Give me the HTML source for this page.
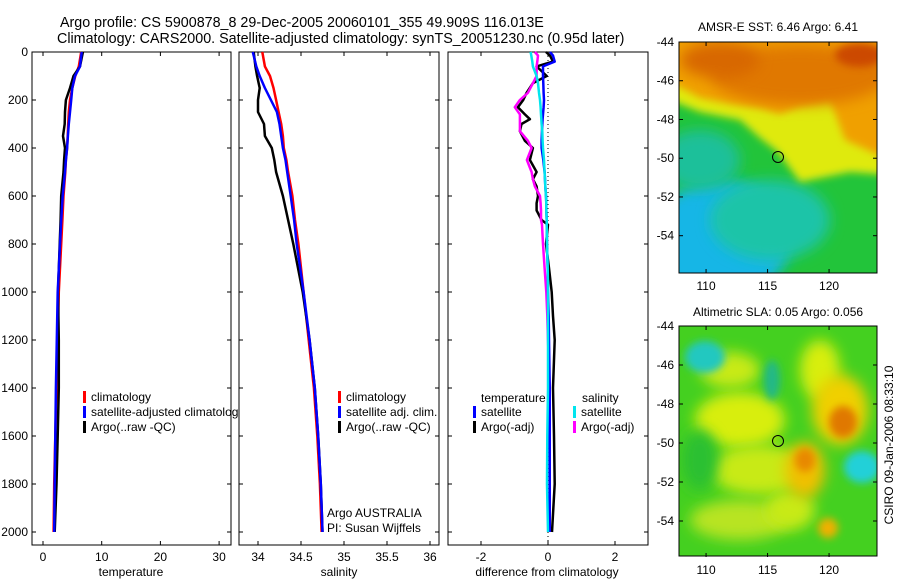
<!DOCTYPE html>
<html><head><meta charset="utf-8"><style>
html,body{margin:0;padding:0;background:#fff;}
svg{display:block;font-family:"Liberation Sans",sans-serif;}
</style></head><body>
<svg id="c" width="900" height="580" viewBox="0 0 900 580" xmlns="http://www.w3.org/2000/svg">
<defs>
<filter id="bl" x="-50%" y="-50%" width="200%" height="200%"><feGaussianBlur stdDeviation="7"/></filter>
<filter id="bl2" x="-50%" y="-50%" width="200%" height="200%"><feGaussianBlur stdDeviation="4"/></filter>
<clipPath id="m1"><rect x="679" y="42" width="198" height="231"/></clipPath>
<clipPath id="m2"><rect x="679" y="326" width="198" height="230"/></clipPath>
</defs>
<text x="60" y="27" font-size="14.3">Argo profile: CS 5900878_8 29-Dec-2005 20060101_355 49.909S 116.013E</text>
<text x="57" y="43" font-size="14.3">Climatology: CARS2000. Satellite-adjusted climatology: synTS_20051230.nc (0.95d later)</text>
<g id="plots"></g>

<!-- SST map -->
<g clip-path="url(#m1)">
<rect x="679" y="42" width="198" height="231" fill="#22c43a"/>
<ellipse cx="720" cy="240" rx="70" ry="60" fill="#19b6e6" filter="url(#bl)"/>
<ellipse cx="770" cy="220" rx="60" ry="40" fill="#1cc4a8" filter="url(#bl)"/>
<ellipse cx="700" cy="160" rx="40" ry="30" fill="#1fc09a" filter="url(#bl)"/>
<polygon points="670,100 700,112 740,120 760,138 778,152 800,182 820,178 850,172 890,175 890,30 670,30" fill="#dfea10" filter="url(#bl2)"/>
<polygon points="670,82 700,98 730,104 760,108 780,114 800,106 830,100 845,140 890,160 890,30 670,30" fill="#f0a000" filter="url(#bl2)"/>
<ellipse cx="800" cy="75" rx="90" ry="30" fill="#e07800" filter="url(#bl)"/>
<ellipse cx="720" cy="60" rx="40" ry="18" fill="#d86800" filter="url(#bl)"/>
<ellipse cx="860" cy="55" rx="25" ry="12" fill="#cc4a00" filter="url(#bl2)"/>
</g>
<rect x="679" y="42" width="198" height="231" fill="none" stroke="#000"/>
<circle cx="778" cy="157" r="5.5" fill="none" stroke="#000"/>
<text x="778" y="31" font-size="12" text-anchor="middle">AMSR-E SST: 6.46 Argo: 6.41</text>

<!-- SLA map -->
<g clip-path="url(#m2)">
<rect x="679" y="326" width="198" height="230" fill="#44d020"/>
<ellipse cx="740" cy="420" rx="45" ry="28" fill="#d8ee10" filter="url(#bl)"/>
<ellipse cx="730" cy="370" rx="30" ry="18" fill="#c8ea18" filter="url(#bl)"/>
<ellipse cx="820" cy="370" rx="20" ry="30" fill="#d8ee10" filter="url(#bl)"/>
<ellipse cx="760" cy="470" rx="50" ry="25" fill="#c8ea18" filter="url(#bl)"/>
<ellipse cx="740" cy="520" rx="50" ry="20" fill="#b8e420" filter="url(#bl)"/>
<ellipse cx="790" cy="510" rx="25" ry="20" fill="#c8ea18" filter="url(#bl)"/>
<ellipse cx="700" cy="460" rx="18" ry="30" fill="#2cc030" filter="url(#bl)"/>
<ellipse cx="840" cy="410" rx="28" ry="35" fill="#f0d000" filter="url(#bl)"/>
<ellipse cx="843" cy="422" rx="14" ry="16" fill="#e07800" filter="url(#bl2)"/>
<ellipse cx="805" cy="470" rx="20" ry="28" fill="#f0c000" filter="url(#bl)"/>
<ellipse cx="805" cy="460" rx="10" ry="12" fill="#e88800" filter="url(#bl2)"/>
<ellipse cx="828" cy="528" rx="10" ry="10" fill="#f0b000" filter="url(#bl2)"/>
<ellipse cx="705" cy="357" rx="20" ry="16" fill="#22c8c0" filter="url(#bl2)"/>
<ellipse cx="862" cy="467" rx="18" ry="16" fill="#22d0d8" filter="url(#bl2)"/>
<ellipse cx="772" cy="380" rx="8" ry="20" fill="#22b888" filter="url(#bl2)"/>
</g>
<rect x="679" y="326" width="198" height="230" fill="none" stroke="#000"/>
<circle cx="778" cy="441" r="5.5" fill="none" stroke="#000"/>
<text x="778" y="316" font-size="12" text-anchor="middle">Altimetric SLA: 0.05 Argo: 0.056</text>
<text transform="translate(893,445) rotate(-90)" font-size="12" text-anchor="middle">CSIRO 09-Jan-2006 08:33:10</text>
<g id="maps"></g>
</svg>
<script>
// ---- data ----
const depths = [0,60,100,150,200,250,300,350,400,450,500,600,700,800,1000,1200,1400,1600,1800,2000];
const tempClim = [6.5,6.1,5.5,5.0,4.6,4.4,4.3,4.2,4.1,3.9,3.8,3.5,3.3,3.1,2.7,2.5,2.3,2.1,1.9,1.8];
const tempSat  = [6.6,6.3,5.45,5.0,4.8,4.6,4.4,4.25,4.1,3.9,3.75,3.35,3.1,2.9,2.5,2.35,2.2,2.1,2.0,1.9];
const tempArgo = [6.8,6.3,5.2,4.6,3.9,3.75,3.7,3.4,3.75,3.6,3.5,3.1,3.0,2.85,2.55,2.7,2.7,2.5,2.3,2.0];
const salClim = [34.05,34.08,34.14,34.18,34.21,34.24,34.27,34.29,34.30,34.33,34.35,34.40,34.43,34.47,34.53,34.59,34.65,34.69,34.72,34.74];
const salSat  = [33.94,33.98,34.02,34.08,34.15,34.22,34.25,34.27,34.29,34.32,34.34,34.38,34.42,34.45,34.53,34.60,34.66,34.70,34.73,34.75];
const salArgo = [33.95,33.97,33.99,34.02,34.00,34.00,34.07,34.08,34.16,34.19,34.21,34.29,34.35,34.41,34.52,34.60,34.66,34.70,34.73,34.75];
const diffDepths = [0,15,40,60,100,130,170,200,230,260,280,300,330,370,400,450,500,530,560,600,630,660,700,720,800,900,1000,1100,1200,1400,1600,1800,2000];
const dTempArgo = [-0.06,0.06,0.15,-0.34,-0.04,-0.45,-0.64,-0.74,-0.9,-0.69,-0.54,-0.79,-0.84,-0.69,-0.45,-0.54,-0.34,-0.45,-0.34,-0.3,-0.34,-0.34,-0.19,0.0,-0.06,0.03,0.11,0.15,0.2,0.15,0.18,0.2,0.12];
const dSalArgo  = [-0.39,-0.3,-0.32,-0.34,-0.34,-0.45,-0.6,-0.84,-0.99,-0.84,-0.84,-0.84,-0.84,-0.6,-0.49,-0.63,-0.49,-0.45,-0.39,-0.24,-0.22,-0.21,-0.21,-0.18,-0.15,-0.1,-0.05,-0.02,0.0,0.05,0.05,0.05,0.05];
const dTempSat  = [0.06,0.15,0.2,-0.15,-0.15,-0.14,-0.13,-0.12,-0.13,-0.15,-0.16,-0.17,-0.18,-0.19,-0.19,-0.14,-0.1,-0.09,-0.08,-0.06,-0.05,-0.05,-0.04,-0.04,-0.03,-0.01,0.0,0.02,0.03,0.05,0.05,0.05,0.05];
const dSalSat   = [-0.52,-0.5,-0.47,-0.45,-0.34,-0.3,-0.27,-0.24,-0.22,-0.21,-0.2,-0.19,-0.17,-0.16,-0.15,-0.12,-0.1,-0.09,-0.08,-0.06,-0.05,-0.05,-0.04,-0.04,-0.03,-0.01,0.0,0.0,0.0,0.0,-0.02,-0.03,0.0];
const depthTicks = [0,200,400,600,800,1000,1200,1400,1600,1800,2000];
const tempTicks = [0,10,20,30];
const salTicks = [34,34.5,35,35.5,36];
const salTickLabels = ["34","34.5","35","35.5","36"];
const diffTicks = [-2,0,2];
const latTicks = [-44,-46,-48,-50,-52,-54];
const lonTicks = [110,115,120];

// ---- axis functions ----
const yD = d => 52 + d*0.24;
const xT = t => 43 + t*5.87;
const xS = s => 258 + (s-34)*86;
const xDf = v => 548 + v*33.5;
const NS = "http://www.w3.org/2000/svg";
const g = document.getElementById('plots');
function mk(tag, attrs, parent){
  const e = document.createElementNS(NS, tag);
  for (const k in attrs) e.setAttribute(k, attrs[k]);
  (parent||g).appendChild(e);
  return e;
}
function txt(x,y,s,anchor,size){
  const t = mk('text',{x:x,y:y,'font-size':size||12,'text-anchor':anchor||'start'});
  t.textContent = s;
  return t;
}
function panel(x0,x1,name){
  const r = mk('rect',{x:x0,y:52,width:x1-x0,height:493,fill:'#fff',stroke:'#000'});
  
  
  depthTicks.forEach(d=>{
    mk('line',{x1:x0,x2:x0+4,y1:yD(d),y2:yD(d),stroke:'#000'});
    mk('line',{x1:x1,x2:x1-4,y1:yD(d),y2:yD(d),stroke:'#000'});
  });
}
function series(xs, ds, xf, color, name){
  const pts = xs.map((v,i)=>xf(v).toFixed(1)+','+yD(ds[i]).toFixed(1)).join(' ');
  const p = mk('polyline',{points:pts,fill:'none',stroke:color,'stroke-width':2.5,'stroke-linejoin':'round'});
  
  
}
function xticks(ticks, labels, xf){
  ticks.forEach((t,i)=>{
    mk('line',{x1:xf(t),x2:xf(t),y1:545,y2:541,stroke:'#000'});
    mk('line',{x1:xf(t),x2:xf(t),y1:52,y2:56,stroke:'#000'});
    const l = txt(xf(t),561,labels[i],'middle');
    
    
  });
}
function legend(x,y,color,label){
  mk('rect',{x:x,y:y-10,width:3,height:12,fill:color});
  const t = txt(x+8,y,label);
  
  
}

// panel 1 temperature
panel(32,231,'temperature-axes');
depthTicks.forEach(d=>{
  const l = txt(28,yD(d)+4,String(d),'end');
  
  
});
xticks(tempTicks, tempTicks.map(String), xT);
series(tempClim, depths, xT, '#ff0000', 'temp-climatology-line');
series(tempArgo, depths, xT, '#000000', 'temp-argo-line');
series(tempSat, depths, xT, '#0000ff', 'temp-satellite-line');
legend(83,401,'#ff0000','climatology');
legend(83,416,'#0000ff','satellite-adjusted climatology');
legend(83,431,'#000000','Argo(..raw -QC)');
let xl = txt(131,576,'temperature','middle');



// panel 2 salinity
panel(239,439,'salinity-axes');
xticks(salTicks, salTickLabels, xS);
series(salClim, depths, xS, '#ff0000', 'sal-climatology-line');
series(salArgo, depths, xS, '#000000', 'sal-argo-line');
series(salSat, depths, xS, '#0000ff', 'sal-satellite-line');
legend(338,401,'#ff0000','climatology');
legend(338,416,'#0000ff','satellite adj. clim.');
legend(338,431,'#000000','Argo(..raw -QC)');
let a1 = txt(327,517,'Argo AUSTRALIA');


let a2 = txt(327,532,'PI: Susan Wijffels');


xl = txt(339,576,'salinity','middle');



// panel 3 difference
panel(448,648,'difference-axes');
xticks(diffTicks, diffTicks.map(String), xDf);
mk('line',{x1:xDf(0),x2:xDf(0),y1:52,y2:545,stroke:'#000','stroke-dasharray':'1,3'});
series(dTempArgo, diffDepths, xDf, '#000000', 'diff-temp-argo-line');
series(dSalArgo, diffDepths, xDf, '#ff00ff', 'diff-sal-argo-line');
series(dTempSat, diffDepths, xDf, '#0000ff', 'diff-temp-satellite-line');
series(dSalSat, diffDepths, xDf, '#00e5ee', 'diff-sal-satellite-line');
let h1 = txt(481,402,'temperature');


let h2 = txt(582,402,'salinity');


legend(473,416,'#0000ff','satellite');
legend(473,431,'#000000','Argo(-adj)');
legend(573,416,'#00e5ee','satellite');
legend(573,431,'#ff00ff','Argo(-adj)');
xl = txt(547,576,'difference from climatology','middle');



// map axes
const gm = document.getElementById('maps');
function mapAxes(top, latTop, pxPerDeg){
  const yL = la => top + (latTop - la)*pxPerDeg;
  const xL = lo => 679 + (lo-107.8)*12.3;
  latTicks.forEach(la=>{
    mk('line',{x1:679,x2:683,y1:yL(la),y2:yL(la),stroke:'#000'},gm);
    mk('line',{x1:877,x2:873,y1:yL(la),y2:yL(la),stroke:'#000'},gm);
    const t = mk('text',{x:674,y:yL(la)+4,'font-size':12,'text-anchor':'end'},gm);
    t.textContent = String(la);
    
    
  });
  lonTicks.forEach(lo=>{
    const b = top + 231;
    mk('line',{x1:xL(lo),x2:xL(lo),y1:b,y2:b-4,stroke:'#000'},gm);
    mk('line',{x1:xL(lo),x2:xL(lo),y1:top,y2:top+4,stroke:'#000'},gm);
    const t = mk('text',{x:xL(lo),y:b+17,'font-size':12,'text-anchor':'middle'},gm);
    t.textContent = String(lo);
    
    
  });
}
mapAxes(42,-44,19.37);
mapAxes(326,-44,19.5);
</script>
</body></html>
